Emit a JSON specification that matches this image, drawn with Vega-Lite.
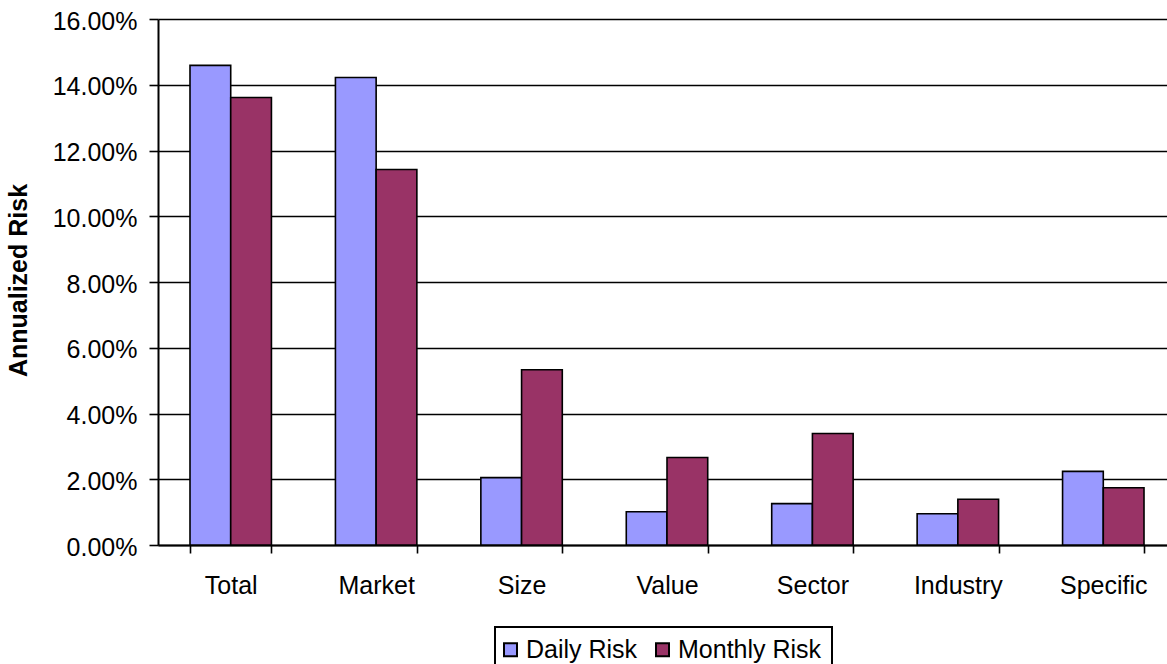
{
  "$schema": "https://vega.github.io/schema/vega-lite/v6.json",
  "width": 1009,
  "height": 526,
  "autosize": {"type": "none"},
  "padding": {"left": 158, "top": 19, "right": 0, "bottom": 119},
  "background": "white",
  "data": {
    "values": [
      {"factor": "Total", "series": "Daily Risk", "risk": 0.1459},
      {"factor": "Total", "series": "Monthly Risk", "risk": 0.1361},
      {"factor": "Market", "series": "Daily Risk", "risk": 0.1422},
      {"factor": "Market", "series": "Monthly Risk", "risk": 0.1142},
      {"factor": "Size", "series": "Daily Risk", "risk": 0.0205},
      {"factor": "Size", "series": "Monthly Risk", "risk": 0.0533},
      {"factor": "Value", "series": "Daily Risk", "risk": 0.0101},
      {"factor": "Value", "series": "Monthly Risk", "risk": 0.0266},
      {"factor": "Sector", "series": "Daily Risk", "risk": 0.0126},
      {"factor": "Sector", "series": "Monthly Risk", "risk": 0.0339},
      {"factor": "Industry", "series": "Daily Risk", "risk": 0.0095},
      {"factor": "Industry", "series": "Monthly Risk", "risk": 0.0139},
      {"factor": "Specific", "series": "Daily Risk", "risk": 0.0224},
      {"factor": "Specific", "series": "Monthly Risk", "risk": 0.0174}
    ]
  },
  "mark": {"type": "bar", "stroke": "black", "strokeWidth": 1.6},
  "encoding": {
    "x": {
      "field": "factor",
      "type": "nominal",
      "sort": ["Total", "Market", "Size", "Value", "Sector", "Industry", "Specific"],
      "scale": {"range": [0, 1018], "paddingInner": 0.44, "paddingOuter": 0.22},
      "axis": {
        "title": null,
        "labelAngle": 0,
        "labelFont": "Liberation Sans",
        "labelFontSize": 25,
        "labelColor": "black",
        "labelPadding": 20,
        "tickBand": "extent",
        "tickSize": 8,
        "tickColor": "black",
        "tickWidth": 1.6,
        "domainColor": "black",
        "domainWidth": 2,
        "grid": false
      }
    },
    "xOffset": {
      "field": "series",
      "type": "nominal",
      "sort": ["Daily Risk", "Monthly Risk"]
    },
    "y": {
      "field": "risk",
      "type": "quantitative",
      "scale": {"domain": [0, 0.16], "nice": false},
      "axis": {
        "title": "Annualized Risk",
        "titleFont": "Liberation Sans",
        "titleFontSize": 25,
        "titleFontWeight": "bold",
        "titleColor": "black",
        "titleX": -140,
        "titleY": 261,
        "titleAngle": -90,
        "titleAlign": "center",
        "titleBaseline": "middle",
        "format": ".2%",
        "values": [0, 0.02, 0.04, 0.06, 0.08, 0.1, 0.12, 0.14, 0.16],
        "labelFont": "Liberation Sans",
        "labelFontSize": 25,
        "labelColor": "black",
        "labelPadding": 12,
        "labelOffset": 2,
        "tickSize": 9,
        "tickColor": "black",
        "tickWidth": 1.6,
        "domainColor": "black",
        "domainWidth": 2,
        "grid": true,
        "gridColor": "black",
        "gridWidth": 1.3,
        "gridOpacity": 1
      }
    },
    "color": {
      "field": "series",
      "type": "nominal",
      "sort": ["Daily Risk", "Monthly Risk"],
      "scale": {"domain": ["Daily Risk", "Monthly Risk"], "range": ["#9999FF", "#993366"]},
      "legend": {
        "title": null,
        "orient": "none",
        "direction": "horizontal",
        "legendX": 337,
        "legendY": 608,
        "symbolType": "square",
        "symbolSize": 169,
        "symbolStrokeColor": "black",
        "symbolStrokeWidth": 2,
        "symbolOffset": -7,
        "labelFont": "Liberation Sans",
        "labelFontSize": 25,
        "labelColor": "black",
        "columnPadding": 14,
        "labelOffset": 3,
        "padding": 10,
        "strokeColor": "black",
        "fillColor": "white"
      }
    }
  },
  "config": {
    "view": {"stroke": null},
    "legend": {"strokeWidth": 2}
  }
}
